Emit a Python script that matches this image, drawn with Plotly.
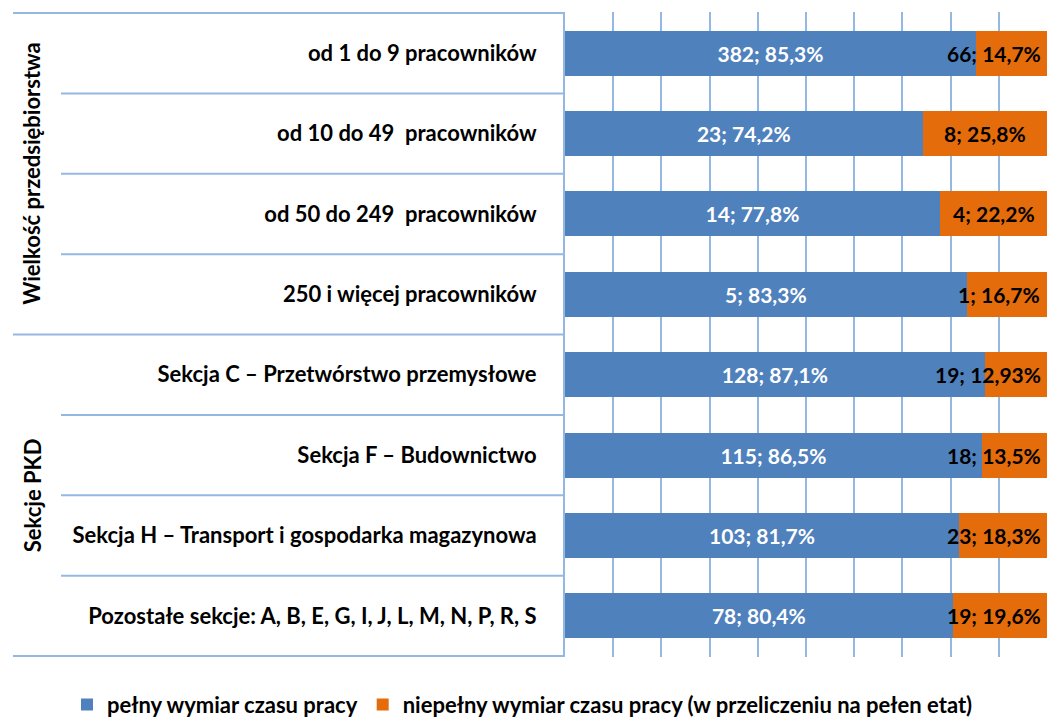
import plotly.graph_objects as go

categories = [
    "od 1 do 9 pracowników",
    "od 10 do 49  pracowników",
    "od 50 do 249  pracowników",
    "250 i więcej pracowników",
    "Sekcja C – Przetwórstwo przemysłowe",
    "Sekcja F – Budownictwo",
    "Sekcja H – Transport i gospodarka magazynowa",
    "Pozostałe sekcje: A, B, E, G, I, J, L, M, N, P, R, S",
]
full_counts = [382, 23, 14, 5, 128, 115, 103, 78]
part_counts = [66, 8, 4, 1, 19, 18, 23, 19]
full_pct = [85.3, 74.2, 77.8, 83.3, 87.1, 86.5, 81.7, 80.4]
part_pct = [14.7, 25.8, 22.2, 16.7, 12.93, 13.5, 18.3, 19.6]
groups = ["Wielkość przedsiębiorstwa", "Sekcje PKD"]
series_names = [
    "pełny wymiar czasu pracy",
    "niepełny wymiar czasu pracy (w przeliczeniu na pełen etat)",
]

BLUE = "#4F81BD"
ORANGE = "#E46C0A"
LINE = "#95B8E3"
FONT = "Lato"


def lab(n, p):
    return f"{n}; {str(p).replace('.', ',')}%"


full_text = [lab(n, p) for n, p in zip(full_counts, full_pct)]
part_text = [lab(n, p) for n, p in zip(part_counts, part_pct)]

fig = go.Figure()

fig.add_trace(go.Bar(
    y=categories, x=full_counts, name=series_names[0], orientation="h",
    marker=dict(color=BLUE, line=dict(width=0)),
    text=full_text, textposition="inside", insidetextanchor="middle",
    constraintext="none", textangle=0,
    textfont=dict(family=FONT, size=21, color="white", weight="bold"),
))
fig.add_trace(go.Bar(
    y=categories, x=part_counts, name=series_names[1], orientation="h",
    marker=dict(color=ORANGE, line=dict(width=0)),
))

# orange labels: centred on the segment but kept inside the right edge
px_per_unit = 482 / 100
for cat, fp, pp, t in zip(categories, full_pct, part_pct, part_text):
    half = len(t) * 10.8 / 2 / px_per_unit
    xc = min(fp + pp / 2, 100 - 1.0 - half)
    fig.add_annotation(x=xc, y=cat, xref="x", yref="y", text=t, showarrow=False,
                       font=dict(family=FONT, size=21, color="black", weight="bold"))

# separators in the label area
x_cat = (61 - 565) / 482
x_grp = (13 - 565) / 482
for i in range(len(categories) + 1):
    x0 = x_grp if i in (0, 4, 8) else x_cat
    fig.add_shape(type="line", xref="paper", yref="y", x0=x0, x1=0,
                  y0=i - 0.5, y1=i - 0.5, line=dict(color=LINE, width=2))

for g, yc in zip(groups, [1.5, 5.5]):
    fig.add_annotation(x=(32 - 565) / 482, y=yc, xref="paper", yref="y", text=g,
                       textangle=-90, showarrow=False, xanchor="center", yanchor="middle",
                       font=dict(family=FONT, size=22, color="black", weight="bold"))

fig.update_layout(
    template="plotly_white",
    width=1048, height=719,
    margin=dict(l=565, r=1, t=12, b=62, autoexpand=False),
    barmode="stack", barnorm="percent", bargap=0.44,
    plot_bgcolor="white", paper_bgcolor="white",
    xaxis=dict(range=[0, 100], dtick=10, showgrid=True, gridcolor=LINE, gridwidth=2,
               showticklabels=False, zeroline=False, showline=False, automargin=False),
    yaxis=dict(autorange="reversed", showgrid=False, showline=True, linecolor=LINE,
               linewidth=2, ticks="", ticklabelstandoff=22, automargin=False,
               tickfont=dict(family=FONT, size=22, color="black", weight="bold")),
    legend=dict(orientation="h", x=(67 - 565) / 482, xanchor="left", y=-0.074,
                yanchor="middle", traceorder="normal",
                font=dict(family=FONT, size=22, color="black", weight="bold")),
    showlegend=True,
)

fig.write_html("out.html", config={"displayModeBar": False},
               post_script="document.body.style.margin='0';")
